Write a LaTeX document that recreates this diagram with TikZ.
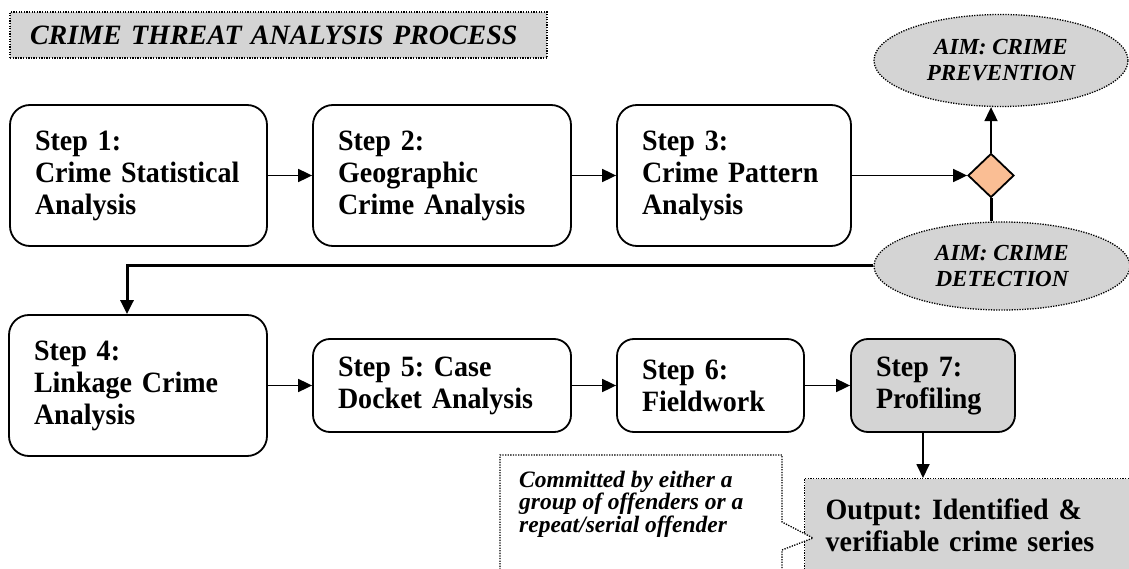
\documentclass[tikz,border=0pt]{standalone}
\usepackage{fontspec}
\setmainfont[FakeStretch=0.95]{Liberation Serif}
\newfontfamily\plainserif{Liberation Serif}
\usetikzlibrary{shapes.geometric,arrows.meta}
\definecolor{boxgray}{RGB}{212,212,212}
\definecolor{peach}{RGB}{250,190,148}
\begin{document}
\frenchspacing
\begin{tikzpicture}[x=1pt,y=-1pt,
  stepbox/.style={draw,line width=1.8pt,rounded corners=20pt,align=left,inner sep=0pt,
    font=\fontsize{29.5}{32}\selectfont\bfseries},
  smallbox/.style={stepbox,rounded corners=17pt,minimum height=93pt},
  dotbox/.style={draw,line width=1.3pt,dash pattern=on 1.3pt off 1.3pt,fill=boxgray},
  aimfont/.style={font=\plainserif\fontsize{23}{26}\selectfont\bfseries\itshape},
  conn/.style={line width=1.8pt,-{Triangle[length=14pt,width=13pt]}},
  thickconn/.style={line width=3pt},
  callout/.style={draw,line width=1.3pt,dash pattern=on 1.3pt off 1.3pt,fill=white}]
\clip (0,0) rectangle (1129,569);
% title
\node[dotbox,minimum width=537pt,minimum height=46pt,text width=497pt,align=left,inner sep=0pt,
  font=\plainserif\fontsize{28}{30}\selectfont\bfseries\itshape] (title) at (278.5,35) {CRIME THREAT ANALYSIS PROCESS};
% row 1
\node[stepbox,minimum width=257pt,minimum height=141pt,text width=207pt] (s1) at (138.5,175.5)
  {\mbox{Step 1:}\\\mbox{Crime Statistical}\\\mbox{Analysis}};
\node[stepbox,minimum width=258pt,minimum height=141pt,text width=208pt] (s2) at (442,175.5)
  {\mbox{Step 2:}\\\mbox{Geographic}\\\mbox{Crime Analysis}};
\node[stepbox,minimum width=234pt,minimum height=141pt,text width=184pt] (s3) at (734,175.5)
  {\mbox{Step 3:}\\\mbox{Crime Pattern}\\\mbox{Analysis}};
\node[diamond,draw,line width=1.8pt,fill=peach,minimum width=46pt,minimum height=44pt,inner sep=0pt] (dec) at (991,175.5) {};
\node[ellipse,dotbox,aimfont,minimum width=254pt,minimum height=92pt,inner sep=0pt,align=center] (prev) at (1001,60.5)
  {AIM: CRIME\\PREVENTION};
\node[ellipse,dotbox,aimfont,minimum width=256pt,minimum height=88pt,inner sep=0pt,align=center] (det) at (1002,266)
  {AIM: CRIME\\DETECTION};
% row 2
\node[stepbox,minimum width=258pt,minimum height=141pt,text width=208pt] (s4) at (138,385.5)
  {\mbox{Step 4:}\\\mbox{Linkage Crime}\\\mbox{Analysis}};
\node[smallbox,minimum width=258pt,text width=208pt] (s5) at (442,385.5)
  {\mbox{Step 5: Case}\\\mbox{Docket Analysis}};
\node[smallbox,minimum width=187pt,text width=137pt] (s6) at (710.5,385.5)
  {\mbox{Step 6:}\\\mbox{Fieldwork}};
\node[smallbox,fill=boxgray,minimum width=164pt,text width=114pt] (s7) at (933,385.5)
  {\mbox{Step 7:}\\\mbox{Profiling}};
% output
\node[dotbox,anchor=north west,minimum width=340pt,minimum height=94pt,text width=298pt,align=left,inner sep=0pt,
  font=\fontsize{29.5}{32}\selectfont\bfseries] (out) at (804,478)
  {\mbox{Output: Identified \&}\\\mbox{verifiable crime series}};
% callout
\draw[callout] (500,580) -- (500,455) -- (782,455) -- (782,522) -- (813,538) -- (782,550) -- (782,580);
\node[anchor=west,align=left,inner sep=0pt,font=\plainserif\fontsize{23.5}{21}\selectfont\bfseries\itshape] (note) at (519,504)
  {Committed by either a\\group of offenders or a\\repeat/serial offender};
% connectors
\draw[conn] (s1) -- (s2);
\draw[conn] (s2) -- (s3);
\draw[conn] (s3) -- (dec);
\draw[conn] (dec.north) -- (dec.north |- prev.south);
\draw[thickconn] (dec.south) -- (dec.south |- det.north);
\draw[thickconn,-{Triangle[length=14pt,width=13pt]}] (det.west) -| ([xshift=-11pt]s4.north);
\draw[conn] (s4) -- (s5);
\draw[conn] (s5) -- (s6);
\draw[conn] (s6) -- (s7);
\draw[conn] ([xshift=-10pt]s7.south) -- ([xshift=-10pt]s7.south |- out.north);
\end{tikzpicture}
\end{document}
